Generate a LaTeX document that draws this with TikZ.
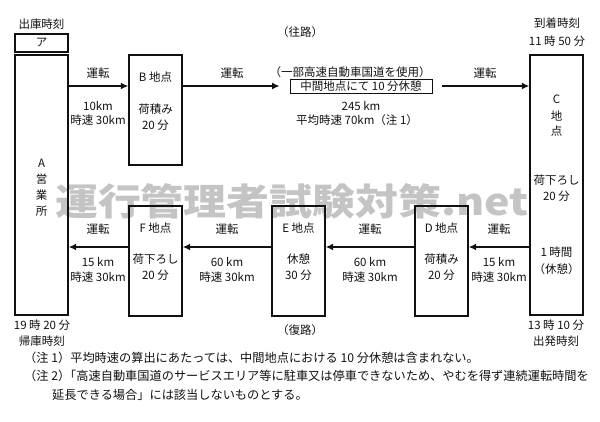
\documentclass[tikz,border=0pt]{standalone}
\usepackage{fontspec}
\setmainfont{Noto Sans CJK JP}
\usepackage{xcolor}
\usetikzlibrary{arrows.meta}
\definecolor{ink}{HTML}{111111}
\definecolor{wmark}{HTML}{C4C4C4}
\tikzset{
  box/.style={draw=ink, line width=1.3pt, inner sep=0pt},
  thin/.style={draw=ink, line width=0.8pt, inner sep=1.5pt},
  run/.style={draw=ink, line width=1.7pt, -{Latex[length=2.6mm,width=2.4mm]}},
  lab/.style={text=ink, font=\fontsize{11.5}{13}\selectfont, inner sep=0pt},
  note/.style={text=ink, font=\fontsize{12.2}{13}\selectfont, inner sep=0pt, anchor=west},
  wm/.style={text=wmark, font=\fontsize{37}{40}\selectfont\bfseries, inner sep=0pt},
}
\begin{document}
\begin{tikzpicture}[x=1pt,y=-1pt]
  \useasboundingbox (0,0) rectangle (600,422);
  % watermark
  \node[wm,xscale=1.16] (wmk) at (292,201) {運行管理者試験対策.net};
  % boxes
  \node[box,minimum width=53pt,minimum height=18pt] (T) at (41.5,43) {};
  \node[box,minimum width=53pt,minimum height=260pt] (A) at (41.5,185) {};
  \node[box,minimum width=53pt,minimum height=110pt] (B) at (155.5,110) {};
  \node[box,minimum width=53pt,minimum height=260pt] (C) at (556.5,185) {};
  \node[box,minimum width=53pt,minimum height=110pt] (D) at (441.5,261) {};
  \node[box,minimum width=53pt,minimum height=110pt] (E) at (298.5,261) {};
  \node[box,minimum width=53pt,minimum height=110pt] (F) at (155.5,261) {};
  \node[lab] at (T) {ア};
  % rows of the arrows
  \coordinate (go) at (0,86);
  \coordinate (back) at (0,247);
  % outward trip
  \node[lab] at (41.5,24) {出庫時刻};
  \node[lab] at (300,32) {（往路）};
  \node[lab] at (557,23) {到着時刻};
  \node[lab] at (557,41) {11 時 50 分};
  \node[lab] at (350,72) {（一部高速自動車国道を使用）};
  \node[thin,lab,inner sep=1.5pt,minimum width=142pt,minimum height=13pt] (mid) at (361,86.5) {中間地点にて 10 分休憩};
  \node[lab] at (361,106) {245 km};
  \node[lab] at (357,120) {平均時速 70km（注 1）};
  \draw[run] (A.east |- go) -- (B.west |- go);
  \draw[run] (B.east |- go) -- ([xshift=-10pt]mid.west |- go);
  \draw[run] ([xshift=10pt]mid.east |- go) -- (C.west |- go);
  \node[lab] at (98,73) {運転};
  \node[lab] at (98,106) {10km};
  \node[lab] at (98,120) {時速 30km};
  \node[lab] at (232,73) {運転};
  \node[lab] at (485,73) {運転};
  % places
  \foreach \t [count=\i] in {A,営,業,所}
    \node[lab] at (41.5,147+16*\i) {\t};
  \node[lab] at (155.5,77) {B 地点};
  \node[lab] at (155.5,109) {荷積み};
  \node[lab] at (155.5,125) {20 分};
  \node[lab] at (556.5,99) {C};
  \node[lab] at (556.5,116) {地};
  \node[lab] at (556.5,131) {点};
  \node[lab] at (556.5,180) {荷下ろし};
  \node[lab] at (556.5,196) {20 分};
  \node[lab] at (556.5,252) {1 時間};
  \node[lab] at (556.5,269) {（休憩）};
  \node[lab] at (441.5,228) {D 地点};
  \node[lab] at (441.5,259) {荷積み};
  \node[lab] at (441.5,275) {20 分};
  \node[lab] at (298.5,228) {E 地点};
  \node[lab] at (298.5,259) {休憩};
  \node[lab] at (298.5,275) {30 分};
  \node[lab] at (155.5,228) {F 地点};
  \node[lab] at (155.5,259) {荷下ろし};
  \node[lab] at (155.5,275) {20 分};
  % return trip
  \draw[run] (C.west |- back) -- (D.east |- back);
  \draw[run] (D.west |- back) -- (E.east |- back);
  \draw[run] (E.west |- back) -- (F.east |- back);
  \draw[run] (F.west |- back) -- (A.east |- back);
  \foreach \x/\d in {499/15 km,370/60 km,227/60 km,98/15 km}{
    \node[lab] at (\x,229) {運転};
    \node[lab] at (\x,262) {\d};
    \node[lab] at (\x,277) {時速 30km};
  }
  \node[lab] at (42,325) {19 時 20 分};
  \node[lab] at (42,341) {帰庫時刻};
  \node[lab] at (300,330) {（復路）};
  \node[lab] at (556,325) {13 時 10 分};
  \node[lab] at (556,341) {出発時刻};
  % notes
  \node[note] at (24,358) {（注 1）平均時速の算出にあたっては、中間地点における 10 分休憩は含まれない。};
  \node[note] at (24,376) {（注 2）\kern-0.5em「高速自動車国道のサービスエリア等に駐車又は停車できないため、やむを得ず連続運転時間を};
  \node[note] at (52,395) {延長できる場合」には該当しないものとする。};
\end{tikzpicture}
\end{document}
